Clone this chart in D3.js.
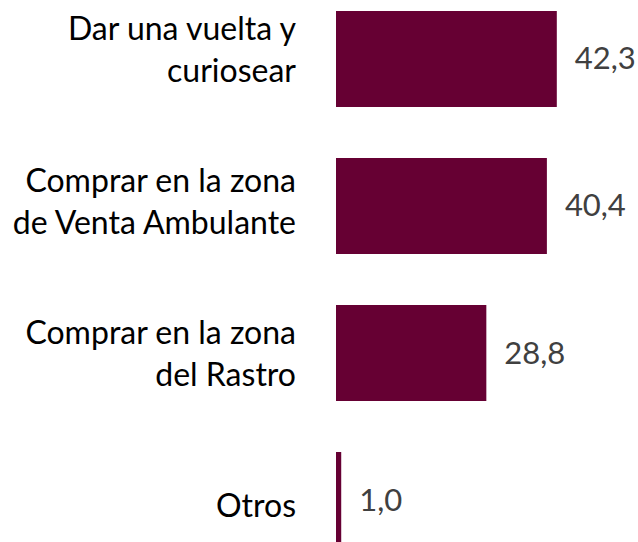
<!DOCTYPE html>
<html>
<head>
<meta charset="utf-8">
<script src="https://cdn.jsdelivr.net/npm/d3@7.9.0/dist/d3.min.js"></script>
<style>
  html, body { margin: 0; padding: 0; background: #fff; }
  svg { display: block; }
  text { font-family: Lato, "Open Sans", sans-serif; }
</style>
</head>
<body>
<svg id="chart" width="638" height="542"></svg>
<script>
const categories = [
  'Dar una vuelta y\ncuriosear',
  'Comprar en la zona\nde Venta Ambulante',
  'Comprar en la zona\ndel Rastro',
  'Otros'
];
const values = [42.3, 40.4, 28.8, 1.0];

const width = 638;
const height = 542;
const barColor = '#660033';
const labelSize = 32;
const valueSize = 31;
const lineH = 42;

const svg = d3.select('#chart');
const data = categories.map((c, i) => ({ cat: c, value: values[i] }));

const x = d3.scaleLinear().domain([0, 50]).range([336, 597]);
const y = d3.scaleBand()
  .domain(categories)
  .range([11, 548])
  .paddingInner(0.347)
  .paddingOuter(0);
// category text sits on its own, slightly wider spacing
const yLabel = d3.scalePoint().domain(categories).range([51, 507]);

const fmt = v => d3.format('.1f')(v).replace('.', ',');

svg.selectAll('rect.bar')
  .data(data)
  .join('rect')
  .attr('class', 'bar')
  .attr('x', x(0))
  .attr('y', d => y(d.cat))
  .attr('width', d => x(d.value) - x(0))
  .attr('height', y.bandwidth())
  .attr('fill', barColor);

svg.selectAll('text.value')
  .data(data)
  .join('text')
  .attr('class', 'value')
  .attr('x', d => x(d.value) + 18)
  .attr('y', d => y(d.cat) + y.bandwidth() / 2 + 10.5)
  .attr('fill', '#404040')
  .style('font-size', valueSize + 'px')
  .text(d => fmt(d.value));

const labels = svg.selectAll('text.cat')
  .data(data)
  .join('text')
  .attr('class', 'cat')
  .attr('text-anchor', 'end')
  .attr('x', 296)
  .attr('y', d => yLabel(d.cat))
  .attr('fill', '#000')
  .style('font-size', labelSize + 'px');

labels.each(function (d) {
  const lines = d.cat.split('\n');
  const t = d3.select(this);
  lines.forEach((line, i) => {
    t.append('tspan')
      .attr('x', 296)
      .attr('dy', i === 0 ? (-(lines.length - 1) * lineH / 2 + 10) : lineH)
      .text(line);
  });
});
</script>
</body>
</html>
